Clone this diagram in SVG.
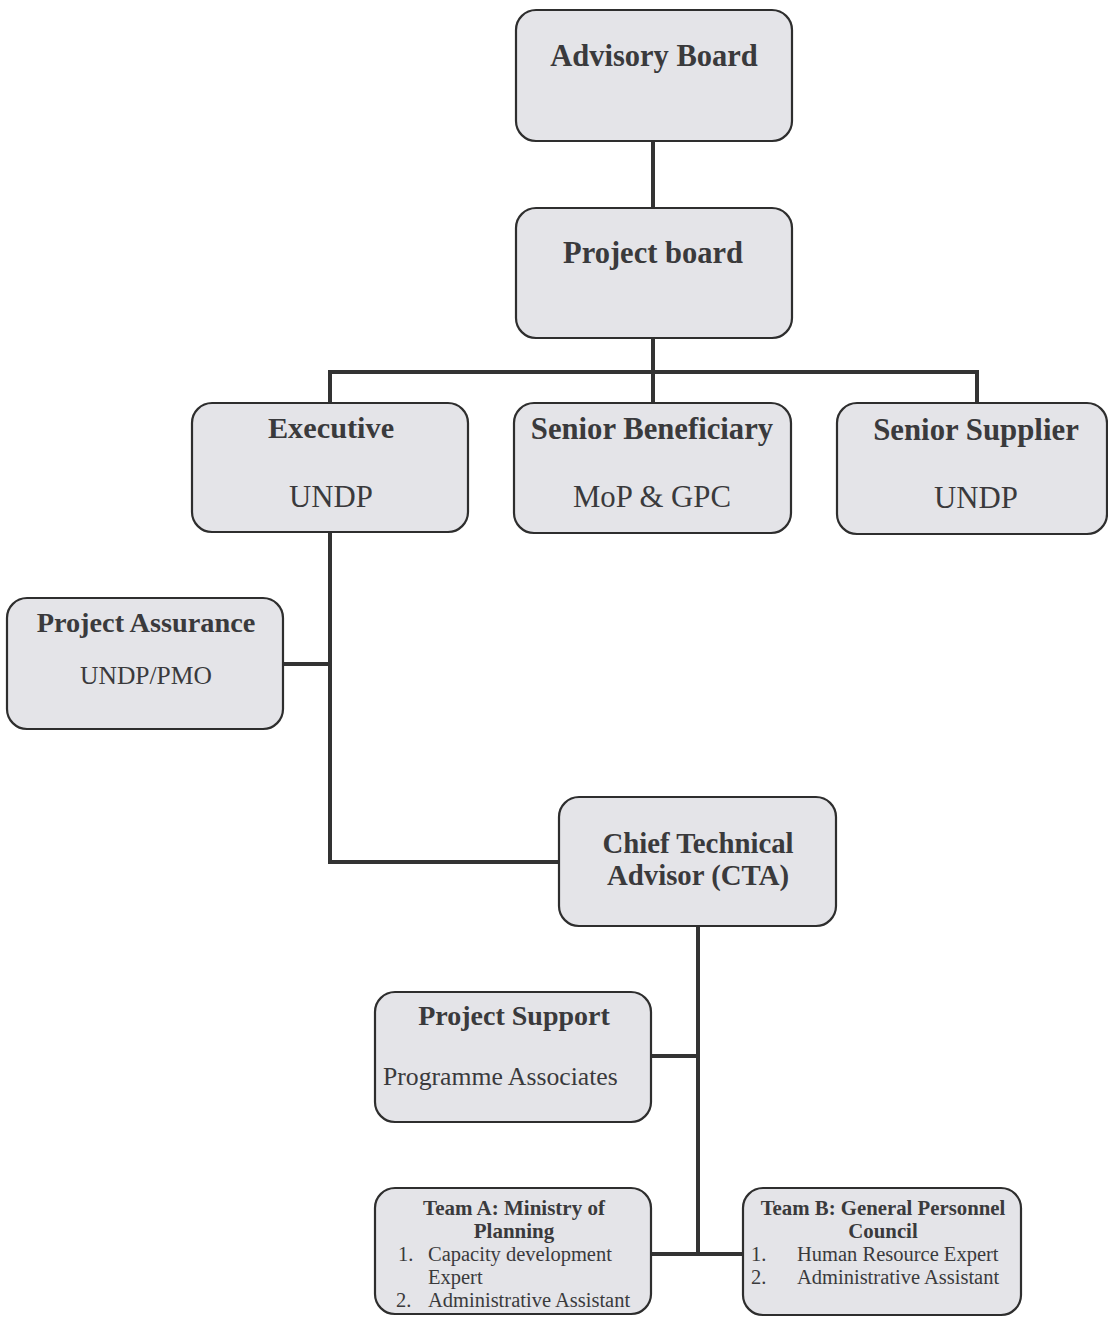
<svg xmlns="http://www.w3.org/2000/svg" width="1108" height="1317" viewBox="0 0 1108 1317">
<style>
.box{fill:#e4e4e8;stroke:#2e2e2e;stroke-width:2.2}
.t{font-family:"Liberation Serif","Times New Roman",serif;fill:#3a3a3c}
.b{font-weight:bold}
.c{text-anchor:middle}
.conn{fill:none;stroke:#333;stroke-width:4;stroke-linejoin:miter}
</style>
<rect width="1108" height="1317" fill="#ffffff"/>
<g id="connectors">
<path class="conn" d="M653 141V208"/>
<path class="conn" d="M653 338V403"/>
<path class="conn" d="M330 403V372H977V403"/>
<path class="conn" d="M330 532V862H559"/>
<path class="conn" d="M283 664H330"/>
<path class="conn" d="M698 926V1254"/>
<path class="conn" d="M651 1056H698"/>
<path class="conn" d="M651 1254H743"/>
</g>
<g id="advisory-board">
<rect class="box" x="516" y="10" width="276" height="131" rx="20"/>
<text class="t b c" x="654" y="66" font-size="30.5">Advisory Board</text>
</g>
<g id="project-board">
<rect class="box" x="516" y="208" width="276" height="130" rx="20"/>
<text class="t b c" x="653" y="263" font-size="30.5">Project board</text>
</g>
<g id="executive">
<rect class="box" x="192" y="403" width="276" height="129" rx="20"/>
<text class="t b c" x="331" y="438" font-size="30.3">Executive</text>
<text class="t c" x="331" y="507" font-size="30.8">UNDP</text>
</g>
<g id="senior-beneficiary">
<rect class="box" x="514" y="403" width="277" height="130" rx="20"/>
<text class="t b c" x="652" y="439" font-size="30.7">Senior Beneficiary</text>
<text class="t c" x="652" y="507" font-size="30.8">MoP &amp; GPC</text>
</g>
<g id="senior-supplier">
<rect class="box" x="837" y="403" width="270" height="131" rx="20"/>
<text class="t b c" x="976" y="440" font-size="30.8">Senior Supplier</text>
<text class="t c" x="976" y="508" font-size="30.8">UNDP</text>
</g>
<g id="project-assurance">
<rect class="box" x="7" y="598" width="276" height="131" rx="20"/>
<text class="t b c" x="146" y="632" font-size="28.3">Project Assurance</text>
<text class="t c" x="146" y="684" font-size="25.5">UNDP/PMO</text>
</g>
<g id="cta">
<rect class="box" x="559" y="797" width="277" height="129" rx="20"/>
<text class="t b c" x="698" y="853" font-size="28.8">Chief Technical</text>
<text class="t b c" x="698" y="885" font-size="28.8">Advisor (CTA)</text>
</g>
<g id="project-support">
<rect class="box" x="375" y="992" width="276" height="130" rx="20"/>
<text class="t b c" x="514" y="1025" font-size="28">Project Support</text>
<text class="t" x="383" y="1085" font-size="25.7">Programme Associates</text>
</g>
<g id="team-a">
<rect class="box" x="375" y="1188" width="276" height="126" rx="20"/>
<text class="t b c" x="514" y="1215" font-size="21">Team A: Ministry of</text>
<text class="t b c" x="514" y="1238" font-size="21">Planning</text>
<text class="t" x="398" y="1261" font-size="20.5">1.</text>
<text class="t" x="428" y="1261" font-size="20.5">Capacity development</text>
<text class="t" x="428" y="1284" font-size="20.5">Expert</text>
<text class="t" x="396" y="1307" font-size="20.5">2.</text>
<text class="t" x="428" y="1307" font-size="20.5">Administrative Assistant</text>
</g>
<g id="team-b">
<rect class="box" x="743" y="1188" width="278" height="127" rx="20"/>
<text class="t b c" x="883" y="1215" font-size="20.8">Team B: General Personnel</text>
<text class="t b c" x="883" y="1238" font-size="20.8">Council</text>
<text class="t" x="751" y="1261" font-size="20.5">1.</text>
<text class="t" x="797" y="1261" font-size="20.5">Human Resource Expert</text>
<text class="t" x="751" y="1284" font-size="20.5">2.</text>
<text class="t" x="797" y="1284" font-size="20.5">Administrative Assistant</text>
</g>
</svg>
